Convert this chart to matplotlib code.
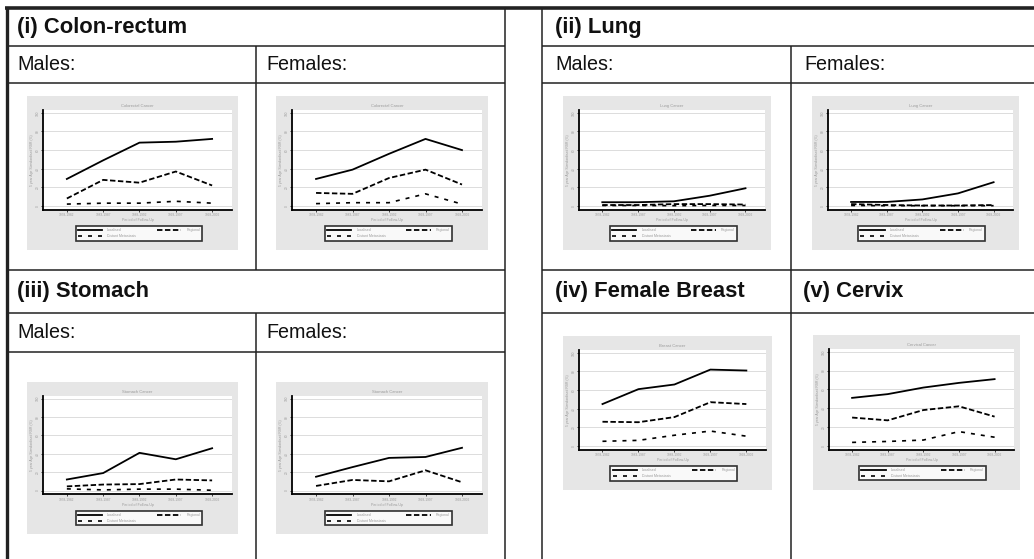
import numpy as np
import matplotlib
matplotlib.use('Agg')
import matplotlib.pyplot as plt
from matplotlib.patches import Rectangle

plt.rcParams['font.family'] = ['Liberation Sans', 'DejaVu Sans']

W, H = 1034, 559

PERIODS = ["1978-1982", "1983-1987", "1988-1992", "1993-1997", "1998-2002"]
SERIES_NAMES = ["Localised", "Regional", "Distant Metastasis"]

# 5 year age standardised relative survival (%)
colon_m_local   = [29, 49, 68, 69, 72]
colon_m_region  = [8, 28, 25, 37, 22]
colon_m_distant = [2, 3, 3, 5, 3]

colon_f_local   = [29, 39, 56, 72, 60]
colon_f_region  = [14, 13, 30, 39, 23]
colon_f_distant = [2.5, 3.5, 3.5, 13, 2]

lung_m_local   = [4, 4, 5, 11, 19]
lung_m_region  = [1, 1, 2, 2, 1.5]
lung_m_distant = [0.5, 0.5, 0.3, 0.5, 0.5]

lung_f_local   = [4.3, 4.3, 7, 13.5, 25.5]
lung_f_region  = [2, 1, 0.5, 0.5, 1]
lung_f_distant = [0.5, 0.3, 0.3, 0.3, 0.3]

stomach_m_local   = [12, 19, 41, 34, 46]
stomach_m_region  = [4.5, 6.5, 7, 12, 11]
stomach_m_distant = [1.8, 0.7, 1.5, 1.5, 0.3]

stomach_f_local   = [15, 25.5, 35.5, 36.5, 46.5]
stomach_f_region  = [5, 11.5, 10, 22, 9]
stomach_f_distant = [np.nan, np.nan, np.nan, np.nan, np.nan]

breast_local   = [45, 61, 66, 82, 81]
breast_region  = [26, 25.5, 31, 47, 45]
breast_distant = [5, 6, 11.5, 16, 10.5]

cervix_local   = [51, 55, 62, 67, 71]
cervix_region  = [30, 27, 38, 42, 31]
cervix_distant = [3.5, 4.5, 6, 15, 9]

CHARTS = [
    ("Colorectal Cancer", colon_m_local, colon_m_region, colon_m_distant, (27, 96, 211, 154)),
    ("Colorectal Cancer", colon_f_local, colon_f_region, colon_f_distant, (276, 96, 212, 154)),
    ("Lung Cancer", lung_m_local, lung_m_region, lung_m_distant, (563, 96, 208, 154)),
    ("Lung Cancer", lung_f_local, lung_f_region, lung_f_distant, (812, 96, 207, 154)),
    ("Stomach Cancer", stomach_m_local, stomach_m_region, stomach_m_distant, (27, 382, 211, 152)),
    ("Stomach Cancer", stomach_f_local, stomach_f_region, stomach_f_distant, (276, 382, 212, 152)),
    ("Breast Cancer", breast_local, breast_region, breast_distant, (563, 336, 209, 154)),
    ("Cervical Cancer", cervix_local, cervix_region, cervix_distant, (813, 335, 207, 155)),
]

fig = plt.figure(figsize=(W / 100, H / 100), dpi=100)
bg = fig.add_axes([0, 0, 1, 1])
bg.set_xlim(0, W)
bg.set_ylim(H, 0)
bg.axis('off')


def hline(y, x0, x1, lw=1.1):
    bg.plot([x0, x1], [y, y], color='#222222', lw=lw, solid_capstyle='butt')


def vline(x, y0, y1, lw=1.1):
    bg.plot([x, x], [y0, y1], color='#222222', lw=lw, solid_capstyle='butt')


# --- table grid ---
hline(8, 5, W, lw=2.6)
vline(7, 7, H, lw=2.4)
vline(505, 8, H)
vline(542, 8, H)
for y in [46, 83, 270, 313, 352]:
    hline(y, 7, 505)
for y in [46, 83, 270, 313]:
    hline(y, 542, W)
vline(256, 46, 270)
vline(256, 313, H)
vline(791, 46, 270)
vline(791, 270, H)

# --- table text ---
hdr = dict(fontsize=15.8, fontweight='bold', va='center', ha='left', color='#111111')
sub = dict(fontsize=14.2, va='center', ha='left', color='#111111')
bg.text(17, 27, "(i) Colon-rectum", **hdr)
bg.text(555, 27, "(ii) Lung", **hdr)
bg.text(17, 292, "(iii) Stomach", **hdr)
bg.text(555, 292, "(iv) Female Breast", **hdr)
bg.text(803, 292, "(v) Cervix", **hdr)
for x, y in [(17, 65), (555, 65), (17, 333)]:
    bg.text(x, y, "Males:", **sub)
for x, y in [(266, 65), (804, 65), (266, 333)]:
    bg.text(x, y, "Females:", **sub)


def fig_rect(x, y, w, h):
    return [x / W, 1 - (y + h) / H, w / W, h / H]


x_pos = np.arange(1, len(PERIODS) + 1)
styles = [
    dict(ls='-', lw=1.3),
    dict(ls=(0, (3, 1.4)), lw=1.3),
    dict(ls=(0, (2.4, 3.6)), lw=1.2),
]
txt_gray = '#9a9a9a'

for title, loc, reg, dist, (px, py, pw, ph) in CHARTS:
    bg.add_patch(Rectangle((px, py), pw, ph, facecolor='#e6e6e6', edgecolor='none'))
    ax = fig.add_axes(fig_rect(px + 0.077 * pw, py + 0.09 * ph, 0.895 * pw, 0.65 * ph))
    ax.set_facecolor('white')
    for vals, st, name in zip([loc, reg, dist], styles, SERIES_NAMES):
        ax.plot(x_pos, vals, color='black', label=name, **st)
    ax.set_xlim(0.35, 5.55)
    ax.set_ylim(-4.3, 103.2)
    ax.set_yticks([0, 20, 40, 60, 80, 100])
    ax.set_xticks(x_pos)
    ax.set_xticklabels(PERIODS)
    ax.tick_params(axis='both', labelsize=2.3, labelcolor=txt_gray, length=1.5, width=0.5, pad=1)
    for lab in ax.get_yticklabels():
        lab.set_rotation(90)
        lab.set_va('center')
    ax.grid(axis='y', color='#dcdcdc', lw=0.7)
    ax.set_axisbelow(True)
    for s in ['top', 'right']:
        ax.spines[s].set_visible(False)
    for s in ['left', 'bottom']:
        ax.spines[s].set_linewidth(1.3)
        ax.spines[s].set_color('black')
    ax.set_title(title, fontsize=3, color=txt_gray, pad=2)
    ax.set_xlabel("Period of Follow-Up", fontsize=2.6, color=txt_gray, labelpad=0.5)
    ax.set_ylabel("5 year Age Standardised RSR (%)", fontsize=2.4, color=txt_gray, labelpad=1)

    handles, labels = ax.get_legend_handles_labels()
    order = [0, 2, 1]
    cx = (px + 0.53 * pw) / W
    top = 1 - (py + 0.835 * ph) / H
    leg = ax.legend([handles[i] for i in order], [labels[i] for i in order],
                    loc='upper center', bbox_to_anchor=(cx, top),
                    bbox_transform=fig.transFigure, ncol=2, fontsize=2.5,
                    frameon=True, fancybox=False, edgecolor='black',
                    handlelength=7, columnspacing=6, borderpad=0.6,
                    labelspacing=0.6, handletextpad=1.5)
    leg.get_frame().set_linewidth(1.2)
    for t in leg.get_texts():
        t.set_color(txt_gray)

fig.savefig("out.png", dpi=100)
